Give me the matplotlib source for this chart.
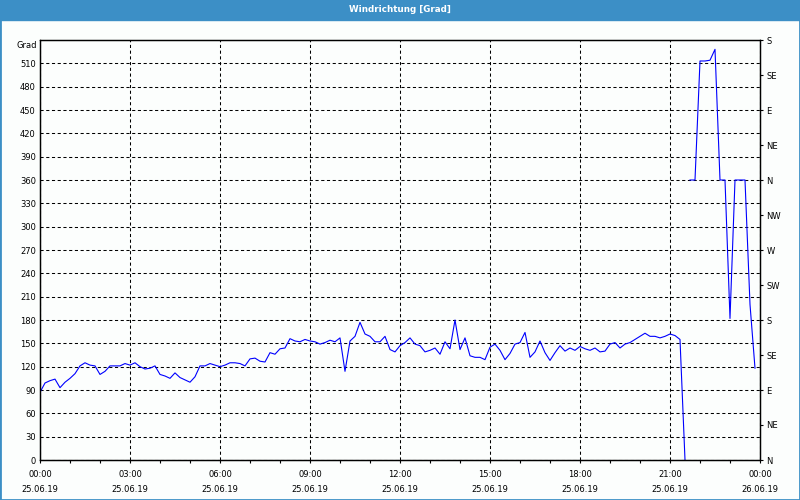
import matplotlib.pyplot as plt
from matplotlib.patches import Rectangle
import numpy as np

# Windrichtung in Grad, 10-Minuten-Werte ab 25.06.19 00:00 bis 21:30
dir_a = [87, 99, 102, 104, 93, 100, 105, 111, 121, 125,
         122, 121, 110, 114, 121, 121, 121, 124, 122, 125,
         120, 117, 118, 121, 110, 108, 105, 112, 106, 103,
         100, 107, 121, 121, 124, 122, 120, 122, 125, 125,
         124, 121, 130, 131, 127, 126, 138, 136, 143, 144,
         156, 153, 152, 155, 153, 152, 149, 151, 154, 152,
         157, 114, 153, 159, 177, 162, 159, 152, 152, 159,
         142, 139, 147, 151, 157, 149, 147, 139, 141, 144,
         136, 152, 143, 180, 142, 157, 134, 132, 132, 129,
         145, 149, 141, 129, 137, 149, 151, 164, 132, 139,
         153, 138, 128, 138, 147, 140, 144, 141, 146, 143,
         141, 144, 139, 140, 149, 151, 144, 149, 151, 155,
         159, 163, 159, 159, 157, 159, 162, 160, 155, 0]
# ab 21:40 (nach Umbruch ueber Nord)
dir_b = [360, 360, 513, 513, 514, 528, 360, 360, 182, 360, 360, 360, 200, 118]
start_b = 21 + 40 / 60

x_labels = ['00:00\n25.06.19', '03:00\n25.06.19', '06:00\n25.06.19',
            '09:00\n25.06.19', '12:00\n25.06.19', '15:00\n25.06.19',
            '18:00\n25.06.19', '21:00\n25.06.19', '00:00\n26.06.19']
compass = ['N', 'NE', 'E', 'SE', 'S', 'SW', 'W', 'NW',
           'N', 'NE', 'E', 'SE', 'S']

t_a = np.arange(len(dir_a)) * 10 / 60
t_b = start_b + np.arange(len(dir_b)) * 10 / 60

bg = '#fcfefd'
blue = '#3c8fc6'

fig = plt.figure(figsize=(8, 5), dpi=100, facecolor=bg)
ax = fig.add_axes([0.05, 0.08, 0.9, 0.84])
ax.set_facecolor(bg)

ax.plot(t_a, dir_a, color='#0000ff', lw=0.8)
ax.plot(t_b, dir_b, color='#0000ff', lw=0.8)

ax.set_xlim(0, 24)
ax.set_ylim(0, 540)
ax.set_yticks(range(0, 511, 30))
ax.set_xticks(range(0, 25, 3))
ax.set_xticklabels(x_labels)
ax.set_xticks(range(25), minor=True)
for lab in ax.get_xticklabels():
    lab.set_linespacing(1.8)

ax.tick_params(axis='x', which='both', direction='out', length=2.2, width=0.8,
               pad=5, labelsize=6, colors='black')
ax.tick_params(axis='y', length=0, pad=3, labelsize=6)
ax.grid(True, color='black', linestyle=(0, (3, 2.5)), lw=0.75)
for s in ax.spines.values():
    s.set_linewidth(0.9)

ax2 = ax.twinx()
ax2.set_ylim(0, 540)
ax2.set_yticks(range(0, 541, 45))
ax2.set_yticklabels(compass)
ax2.tick_params(axis='y', length=2.2, width=0.8, pad=2.5, labelsize=6)
for s in ax2.spines.values():
    s.set_linewidth(0.9)

fig.text(37 / 800, 1 - 45 / 500, 'Grad', ha='right', va='center', fontsize=6)

# Titelleiste und Rahmen
fig.patches.append(Rectangle((0, 1 - 20 / 500), 1, 20 / 500, transform=fig.transFigure,
                             color=blue, zorder=0))
fig.patches.append(Rectangle((0, 0), 1, 1, transform=fig.transFigure, fill=False,
                             edgecolor=blue, lw=2, zorder=0))
fig.text(0.5, 1 - 10 / 500, 'Windrichtung [Grad]', color='white', weight='bold',
         ha='center', va='center', fontsize=6.3)

fig.savefig('out.png', dpi=100, facecolor=fig.get_facecolor())
